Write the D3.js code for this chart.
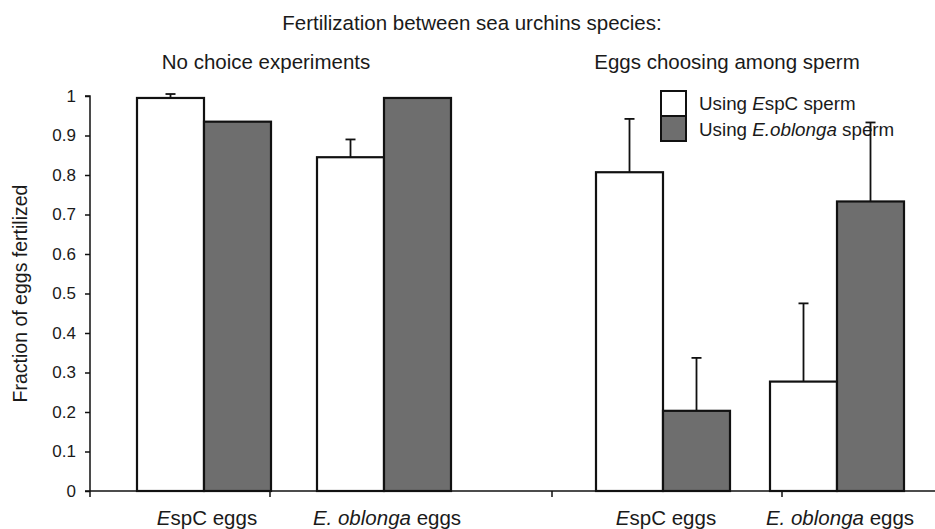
<!DOCTYPE html>
<html><head><meta charset="utf-8">
<script src="https://cdn.jsdelivr.net/npm/d3@7"></script>
<style>
html,body{margin:0;padding:0;background:#fff;}
svg text{font-family:"Liberation Sans",Arial,sans-serif;fill:#1a1a1a;}
</style></head>
<body><svg id="c" width="935" height="529"></svg>
<script>
// ---- data ----
const chartTitle = "Fertilization between sea urchins species:";
const panelTitles = ["No choice experiments", "Eggs choosing among sperm"];
const eggCategories = ["EspC eggs", "E. oblonga eggs"];
const seriesNames = ["Using EspC sperm", "Using E.oblonga sperm"];
// panel 1: no choice
const noChoiceEspCSperm = [0.995, 0.845];
const noChoiceEspCSpermErr = [0.01, 0.045];
const noChoiceEoblSperm = [0.935, 0.995];
const noChoiceEoblSpermErr = [0, 0];
// panel 2: eggs choosing
const choiceEspCSperm = [0.807, 0.277];
const choiceEspCSpermErr = [0.135, 0.198];
const choiceEoblSperm = [0.203, 0.733];
const choiceEoblSpermErr = [0.134, 0.2];
const yTicks = [0, 0.1, 0.2, 0.3, 0.4, 0.5, 0.6, 0.7, 0.8, 0.9, 1];
const yLabel = "Fraction of eggs fertilized";

// ---- layout ----
const svg = d3.select("#c");
const axisX = 90, baseY = 491, topY = 96;
const y = d3.scaleLinear().domain([0, 1]).range([baseY, topY]);
const fills = ["#ffffff", "#6e6e6e"];
const barW = 67;
const ink = "#111";

const panels = [
  {range: [114, 474], titleX: 266, title: panelTitles[0], vals: [noChoiceEspCSperm, noChoiceEoblSperm], errs: [noChoiceEspCSpermErr, noChoiceEoblSpermErr], ticks: [90, 270]},
  {range: [576, 924], titleX: 727, title: panelTitles[1], vals: [choiceEspCSperm, choiceEoblSperm], errs: [choiceEspCSpermErr, choiceEoblSpermErr], ticks: [552, 782]}
];

// title
svg.append("text").attr("x", 472).attr("y", 30).attr("text-anchor", "middle")
  .attr("font-size", 20.5).text(chartTitle);

// legend
const lg = svg.append("g");
seriesNames.forEach((s, i) => {
  lg.append("rect").attr("x", 661).attr("y", 91 + i * 25).attr("width", 25).attr("height", 25)
    .attr("fill", fills[i]).attr("stroke", ink).attr("stroke-width", 2);
  const t = lg.append("text").attr("x", 699).attr("y", 110 + i * 26).attr("font-size", 18.8);
  if (i === 0) {
    t.append("tspan").text("Using ");
    t.append("tspan").attr("font-style", "italic").text("E");
    t.append("tspan").text("spC sperm");
  } else {
    t.append("tspan").text("Using ");
    t.append("tspan").attr("font-style", "italic").text("E.oblonga");
    t.append("tspan").text(" sperm");
  }
});

// y axis
const yAxis = d3.axisLeft(y).tickValues(yTicks).tickSize(5).tickPadding(9)
  .tickFormat(d => d === 0 || d === 1 ? d3.format("d")(d) : d3.format(".1f")(d));
const ya = svg.append("g").attr("transform", `translate(${axisX},0)`).call(yAxis);
ya.select(".domain").attr("stroke", ink).attr("stroke-width", 1.5).attr("d", `M-5,${topY}H0V${baseY}`);
ya.selectAll(".tick line").attr("stroke", ink).attr("stroke-width", 1.5);
ya.selectAll(".tick text").attr("font-size", 17).attr("fill", "#1a1a1a")
  .attr("font-family", '"Liberation Sans",Arial,sans-serif');

svg.append("text").attr("transform", `translate(27,${(topY + baseY) / 2}) rotate(-90)`)
  .attr("text-anchor", "middle").attr("font-size", 19.5).text(yLabel);

// x axis line
svg.append("line").attr("x1", axisX - 5).attr("x2", 935).attr("y1", baseY).attr("y2", baseY)
  .attr("stroke", ink).attr("stroke-width", 1.5);

panels.forEach(p => {
  const x = d3.scaleBand().domain(eggCategories).range(p.range);
  const cx = c => x(c) + x.bandwidth() / 2;
  // panel title
  svg.append("text").attr("x", p.titleX).attr("y", 69).attr("text-anchor", "middle")
    .attr("font-size", 20.5).text(p.title);
  // ticks
  p.ticks.forEach(t => svg.append("line").attr("x1", t).attr("x2", t).attr("y1", baseY).attr("y2", baseY + 6)
    .attr("stroke", ink).attr("stroke-width", 1.5));
  // bars
  p.vals.forEach((vals, si) => {
    eggCategories.forEach((c, ci) => {
      const x0 = cx(c) + (si === 0 ? -barW : 0);
      const v = vals[ci], e = p.errs[si][ci];
      if (e > 0) {
        const g = svg.append("g").attr("stroke", ink).attr("stroke-width", 1.8);
        g.append("line").attr("x1", x0 + barW / 2).attr("x2", x0 + barW / 2).attr("y1", y(v)).attr("y2", y(v + e));
        g.append("line").attr("x1", x0 + barW / 2 - 5).attr("x2", x0 + barW / 2 + 5).attr("y1", y(v + e)).attr("y2", y(v + e));
      }
      svg.append("rect").attr("x", x0).attr("y", y(v)).attr("width", barW).attr("height", y(0) - y(v))
        .attr("fill", fills[si]).attr("stroke", ink).attr("stroke-width", 2.2);
    });
  });
  // category labels
  eggCategories.forEach((c, ci) => {
    const t = svg.append("text").attr("x", cx(c) + 3).attr("y", 525).attr("text-anchor", "middle").attr("font-size", 20.5);
    if (ci === 0) {
      t.append("tspan").attr("font-style", "italic").text("E");
      t.append("tspan").text("spC eggs");
    } else {
      t.append("tspan").attr("font-style", "italic").text("E. oblonga");
      t.append("tspan").text(" eggs");
    }
  });
});
</script></body></html>
